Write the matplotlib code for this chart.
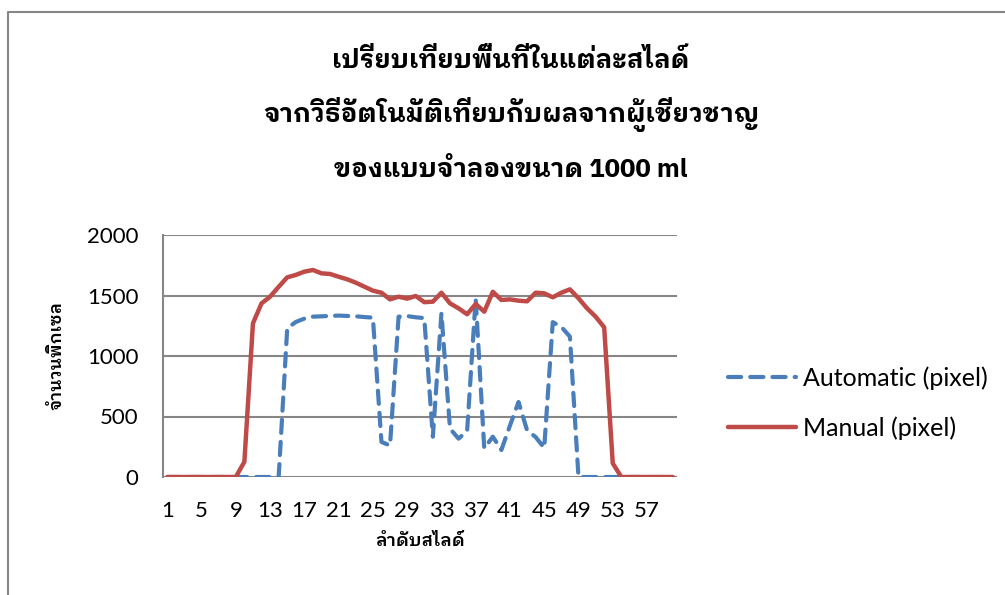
import matplotlib
matplotlib.use("Agg")
import matplotlib.pyplot as plt
import matplotlib.font_manager as fm
from matplotlib.ft2font import FT2Font
from matplotlib.lines import Line2D

# ---------------- data ----------------
slides = list(range(1, 61))
automatic = [0, 0, 0, 0, 0, 0, 0, 0, 0, 0,
             0, 0, 0, 0, 1229, 1281, 1309, 1325, 1328, 1331,
             1334, 1331, 1328, 1322, 1317, 290, 260, 1325, 1330, 1320,
             1313, 333, 1353, 400, 317, 380, 1475, 237, 333, 223,
             425, 620, 386, 330, 240, 1280, 1240, 1160, 0, 0,
             0, 0, 0, 0, 0, 0, 0, 0, 0, 0]
manual = [0, 0, 0, 0, 0, 0, 0, 0, 0, 126,
          1270, 1435, 1490, 1572, 1650, 1670, 1697, 1711, 1683, 1678,
          1655, 1634, 1606, 1573, 1540, 1523, 1468, 1490, 1474, 1496,
          1445, 1449, 1523, 1435, 1394, 1345, 1430, 1366, 1531, 1463,
          1468, 1457, 1452, 1523, 1518, 1485, 1523, 1551, 1477, 1394,
          1325, 1237, 113, 0, 0, 0, 0, 0, 0, 0]
x_ticks = [1, 5, 9, 13, 17, 21, 25, 29, 33, 37, 41, 45, 49, 53, 57]
y_ticks = [0, 500, 1000, 1500, 2000]
series_labels = ["Automatic (pixel)", "Manual (pixel)"]
title_lines = ["เปรียบเทียบพื้นที่ในแต่ละสไลด์",
               "จากวิธีอัตโนมัติเทียบกับผลจากผู้เชี่ยวชาญ",
               "ของแบบจำลองขนาด 1000 ml"]
x_label = "ลำดับสไลด์"
y_label = "จำนวนพิกเซล"

# ---------------- fonts ----------------
thai_weights = {}
for f in fm.fontManager.ttflist:
    try:
        cmap = FT2Font(f.fname).get_charmap()
        if 0x0E01 in cmap and 0x0E33 in cmap:
            w = f.weight if isinstance(f.weight, int) else 400
            thai_weights.setdefault(f.name, set()).add(w)
    except Exception:
        pass
pref = ["IBM Plex Sans Thai Looped", "Noto Sans Thai Looped", "Noto Sans Thai",
        "IBM Plex Sans Thai", "Sarabun", "Anuphan", "Loma", "Garuda", "Waree"]
thai_family = None
for p in pref:
    if p in thai_weights and max(thai_weights[p]) >= 600:
        thai_family = p
        break
if thai_family is None:
    for n, ws in thai_weights.items():
        if max(ws) >= 600:
            thai_family = n
            break
if thai_family is None and thai_weights:
    thai_family = next(iter(thai_weights))
thai_list = [thai_family] if thai_family else []
fam = ["Lato"] + thai_list + ["DejaVu Sans"]
plt.rcParams["font.family"] = fam
plt.rcParams["lines.scale_dashes"] = False

# ---------------- figure ----------------
W, H = 1005, 595
fig = plt.figure(figsize=(W / 100, H / 100), dpi=100)
fig.patch.set_facecolor("white")

ax = fig.add_axes([163 / W, 1 - 477 / H, (677 - 163) / W, (477 - 235) / H])

blue = "#4A7EBB"
red = "#BE4B48"
grid_c = "#868686"

ax.plot(slides, automatic, color=blue, lw=3.0, dashes=(9.5, 6.5),
        dash_capstyle="round", solid_capstyle="round", label=series_labels[0], zorder=3)
ax.plot(slides, manual, color=red, lw=3.2, solid_capstyle="round",
        solid_joinstyle="round", label=series_labels[1], zorder=4)

ax.set_xlim(0.5, 60.5)
ax.set_ylim(0, 2000)
ax.set_xticks(x_ticks)
ax.set_xticklabels([str(v) for v in x_ticks])
ax.set_yticks(y_ticks)
ax.set_yticklabels([str(v) for v in y_ticks])
ax.tick_params(axis="both", length=0, labelsize=16, colors="black")
ax.tick_params(axis="y", pad=17.5)
ax.tick_params(axis="x", pad=17)
ax.yaxis.grid(True, color=grid_c, lw=1.5)
ax.set_axisbelow(True)
for s in ["top", "right", "bottom"]:
    ax.spines[s].set_visible(False)
ax.spines["left"].set_color(grid_c)
ax.spines["left"].set_linewidth(1.5)

ax.set_xlabel(x_label, fontsize=13, fontweight=600, labelpad=9)
ax.set_ylabel(y_label, fontsize=12.5, fontweight=600, labelpad=16)

title_fam = thai_list + ["Lato", "DejaVu Sans"]
for i, t in enumerate(title_lines):
    fig.text(511 / W, 1 - (60 + 55 * i) / H, t, ha="center", va="center",
             fontsize=18.5, fontweight="bold", family=title_fam)

ax.legend(loc="center left", bbox_to_anchor=(705 / W, 1 - 403 / H),
          bbox_transform=fig.transFigure, frameon=False, fontsize=18,
          handlelength=2.75, handletextpad=0.25, labelspacing=1.05)

# chart frame (left and top edges visible)
fig.add_artist(Line2D([8 / W, 8 / W, 1.0], [0.0, 1 - 12 / H, 1 - 12 / H],
                      transform=fig.transFigure, color=grid_c, lw=1.5))

fig.savefig("out.png", dpi=100)
